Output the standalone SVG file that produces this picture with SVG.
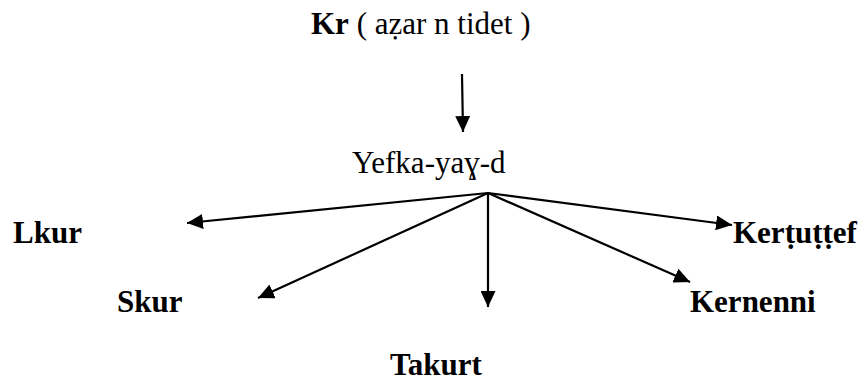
<svg xmlns="http://www.w3.org/2000/svg" width="864" height="383" viewBox="0 0 864 383">
<style>
text{font-family:"Liberation Serif","Times New Roman",serif;font-size:31px;fill:#000}
.b{font-weight:bold}
.c line{stroke:#000;stroke-width:2.2;fill:none}
</style>
<defs>
<marker id="ah" markerUnits="userSpaceOnUse" markerWidth="17" markerHeight="15" refX="16" refY="7.5" orient="auto">
<path d="M0,0 L16,7.5 L0,15 z" fill="#000"/>
</marker>
</defs>
<rect width="864" height="383" fill="#fff"/>
<g id="n-kr"><text x="311" y="34"><tspan class="b">Kr</tspan> ( aẓar n tidet )</text></g>
<g id="n-yefka"><text x="352" y="173">Yefka-yaɣ-d</text></g>
<g id="n-lkur"><text class="b" x="13" y="243">Lkur</text></g>
<g id="n-skur"><text class="b" x="117" y="312">Skur</text></g>
<g id="n-takurt"><text class="b" x="390" y="375">Takurt</text></g>
<g id="n-kernenni"><text class="b" x="690" y="312">Kernenni</text></g>
<g id="n-kertuttef"><text class="b" x="733" y="243">Kerṭuṭṭef</text></g>
<g id="connectors" class="c">
<line x1="462" y1="74" x2="463" y2="132" marker-end="url(#ah)"/>
<line x1="488" y1="193" x2="187" y2="223" marker-end="url(#ah)"/>
<line x1="488" y1="193" x2="258" y2="298" marker-end="url(#ah)"/>
<line x1="488" y1="193" x2="488" y2="307" marker-end="url(#ah)"/>
<line x1="488" y1="193" x2="690" y2="282" marker-end="url(#ah)"/>
<line x1="488" y1="193" x2="732" y2="225" marker-end="url(#ah)"/>
</g>
</svg>
